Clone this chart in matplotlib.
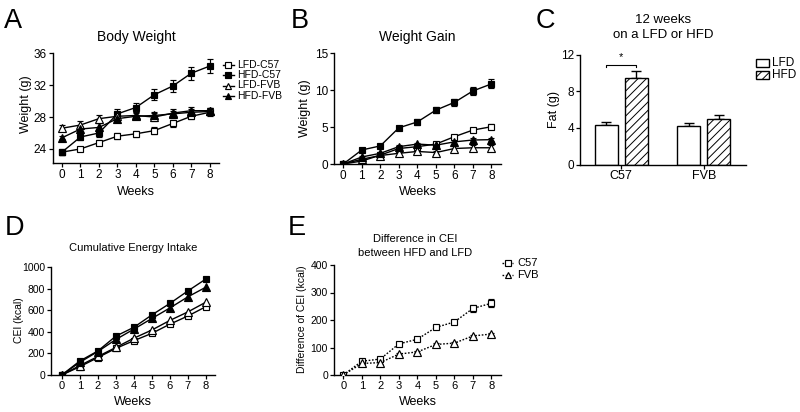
import matplotlib
matplotlib.use("Agg")
import matplotlib.pyplot as plt
from matplotlib.lines import Line2D
from matplotlib.patches import Rectangle

plt.rcParams["font.family"] = ["Liberation Sans", "DejaVu Sans"]
plt.rcParams["hatch.linewidth"] = 0.7

W, H = 800, 412

weeks = [0, 1, 2, 3, 4, 5, 6, 7, 8]
week_labels = ["0", "1", "2", "3", "4", "5", "6", "7", "8"]

# A: body weight (g)
bw_lfd_c57 = [23.6, 24.0, 24.8, 25.6, 25.9, 26.3, 27.2, 28.1, 28.6]
bw_hfd_c57 = [23.6, 25.5, 26.0, 28.4, 29.2, 30.8, 31.9, 33.5, 34.4]
bw_lfd_fvb = [26.6, 27.0, 27.8, 28.1, 28.2, 28.0, 28.5, 28.8, 28.8]
bw_hfd_fvb = [25.4, 26.5, 26.7, 27.8, 28.1, 28.2, 28.4, 28.6, 28.7]
bw_lfd_c57_err = [0.3, 0.3, 0.3, 0.4, 0.4, 0.4, 0.4, 0.4, 0.5]
bw_hfd_c57_err = [0.3, 0.4, 0.5, 0.6, 0.6, 0.7, 0.8, 0.8, 0.9]
bw_lfd_fvb_err = [0.4, 0.5, 0.5, 0.5, 0.4, 0.5, 0.5, 0.5, 0.4]
bw_hfd_fvb_err = [0.2, 0.4, 0.5, 0.4, 0.4, 0.4, 0.4, 0.4, 0.4]

# B: weight gain (g)
wg_lfd_c57 = [0, 0.4, 1.2, 2.1, 2.35, 2.7, 3.7, 4.6, 5.05]
wg_hfd_c57 = [0, 1.9, 2.45, 4.9, 5.7, 7.3, 8.35, 9.9, 10.85]
wg_lfd_fvb = [0, 0.65, 1.15, 1.45, 1.7, 1.55, 2.1, 2.2, 2.2]
wg_hfd_fvb = [0, 0.95, 1.45, 2.35, 2.7, 2.55, 3.0, 3.25, 3.3]
wg_lfd_c57_err = [0.1, 0.15, 0.2, 0.2, 0.2, 0.2, 0.2, 0.25, 0.35]
wg_hfd_c57_err = [0.1, 0.2, 0.2, 0.3, 0.35, 0.4, 0.45, 0.55, 0.6]
wg_lfd_fvb_err = [0.1, 0.2, 0.25, 0.3, 0.3, 0.25, 0.35, 0.4, 0.4]
wg_hfd_fvb_err = [0.1, 0.2, 0.2, 0.2, 0.2, 0.2, 0.25, 0.25, 0.25]

# C: fat after 12 weeks (g)
strains = ["C57", "FVB"]
fat_lfd = [4.3, 4.2]
fat_hfd = [9.4, 5.0]
fat_lfd_err = [0.3, 0.3]
fat_hfd_err = [0.75, 0.4]

# D: cumulative energy intake (kcal)
cei_lfd_c57 = [0, 77, 162, 247, 319, 387, 472, 548, 635]
cei_hfd_c57 = [0, 130, 223, 361, 443, 558, 665, 781, 892]
cei_lfd_fvb = [0, 88, 172, 256, 342, 418, 507, 586, 677]
cei_hfd_fvb = [0, 118, 218, 330, 426, 525, 623, 726, 816]

# E: difference in CEI between HFD and LFD (kcal)
dcei_c57 = [0, 50, 58, 113, 130, 173, 193, 242, 261]
dcei_fvb = [0, 42, 45, 76, 84, 111, 116, 142, 149]
dcei_c57_err = [3, 6, 5, 6, 5, 6, 8, 14, 14]
dcei_fvb_err = [3, 4, 4, 5, 4, 4, 4, 5, 5]

STYLES = {
    "LFD-C57": dict(marker="s", mfc="white"),
    "HFD-C57": dict(marker="s", mfc="black"),
    "LFD-FVB": dict(marker="^", mfc="white"),
    "HFD-FVB": dict(marker="^", mfc="black"),
}


def fx(x):
    return x / W


def fy(y):
    return 1 - y / H


def make_axes(fig, left, top, right, bottom):
    ax = fig.add_axes([fx(left), fy(bottom), (right - left) / W, (bottom - top) / H])
    ax.spines["top"].set_visible(False)
    ax.spines["right"].set_visible(False)
    for s in ("left", "bottom"):
        ax.spines[s].set_linewidth(1.0)
    ax.tick_params(direction="out", length=2.8, width=0.9, pad=1.5)
    return ax


def plot_series(ax, y, err, style, ls="-", ms=4.4):
    mk = style["marker"]
    size = ms + 0.8 if mk == "^" else ms
    if err is not None:
        ax.errorbar(weeks, y, yerr=err, fmt="none", ecolor="black",
                    elinewidth=0.85, capsize=2.5, capthick=0.85, zorder=2)
    ax.plot(weeks, y, color="black", lw=1.0, ls=ls, marker=mk, ms=size,
            mfc=style["mfc"], mec="black", mew=0.85, zorder=3)


def week_axis(ax, xmin=-0.5, fs=8.5):
    ax.set_xlim(xmin, 8.5)
    ax.set_xticks(weeks)
    ax.set_xticklabels(week_labels, fontsize=fs)


def series_legend(fig, x0, y0, dy, entries, ls="-", fs=7.5):
    for i, (label, style) in enumerate(entries):
        y = y0 + i * dy
        mk = style["marker"]
        fig.add_artist(Line2D([fx(x0), fx(x0 + 11)], [fy(y), fy(y)], color="black",
                              lw=1.0, ls=ls))
        fig.add_artist(Line2D([fx(x0 + 5.5)], [fy(y)], marker=mk,
                              ms=4.0 if mk == "s" else 4.4, mfc=style["mfc"],
                              mec="black", mew=0.85, ls="none"))
        fig.text(fx(x0 + 15), fy(y), label, fontsize=fs, va="center", ha="left")


fig = plt.figure(figsize=(W / 100, H / 100), dpi=100)

# panel letters
for letter, x, y in [("A", 4, 28), ("B", 291, 28), ("C", 536, 28.5),
                     ("D", 5, 235), ("E", 288, 235)]:
    fig.text(fx(x), fy(y), letter, fontsize=19.5, va="baseline", ha="left")

# ---- A ----
ax = make_axes(fig, 52.7, 53.3, 219, 163.3)
plot_series(ax, bw_lfd_c57, bw_lfd_c57_err, STYLES["LFD-C57"])
plot_series(ax, bw_hfd_c57, bw_hfd_c57_err, STYLES["HFD-C57"])
plot_series(ax, bw_lfd_fvb, bw_lfd_fvb_err, STYLES["LFD-FVB"])
plot_series(ax, bw_hfd_fvb, bw_hfd_fvb_err, STYLES["HFD-FVB"])
week_axis(ax)
ax.set_ylim(22.2, 36)
ax.set_yticks([24, 28, 32, 36])
ax.tick_params(axis="y", labelsize=8.5)
fig.text(fx(136), fy(41.5), "Body Weight", fontsize=10, ha="center", va="baseline")
fig.text(fx(136), fy(192.3), "Weeks", fontsize=9, ha="center", va="center")
fig.text(fx(26.5), fy(104), "Weight (g)", fontsize=9, ha="center", va="center", rotation=90)
series_legend(fig, 222.5, 64.5, 10.5, [(k, STYLES[k]) for k in STYLES])

# ---- B ----
ax = make_axes(fig, 334, 53.3, 500.7, 164)
plot_series(ax, wg_lfd_c57, wg_lfd_c57_err, STYLES["LFD-C57"])
plot_series(ax, wg_hfd_c57, wg_hfd_c57_err, STYLES["HFD-C57"])
plot_series(ax, wg_lfd_fvb, wg_lfd_fvb_err, STYLES["LFD-FVB"])
plot_series(ax, wg_hfd_fvb, wg_hfd_fvb_err, STYLES["HFD-FVB"])
week_axis(ax)
ax.set_ylim(0, 15)
ax.set_yticks([0, 5, 10, 15])
ax.tick_params(axis="y", labelsize=8.5)
fig.text(fx(417.5), fy(41), "Weight Gain", fontsize=10, ha="center", va="baseline")
fig.text(fx(417.5), fy(192.3), "Weeks", fontsize=9, ha="center", va="center")
fig.text(fx(305), fy(108.5), "Weight (g)", fontsize=9, ha="center", va="center", rotation=90)

# ---- C ----
ax = make_axes(fig, 580, 54.5, 746, 164.5)
pos = [0, 1]
bw = 0.28
off = 0.182
ax.bar([p - off for p in pos], fat_lfd, width=bw, color="white", edgecolor="black",
       linewidth=1.0, zorder=2)
ax.bar([p + off for p in pos], fat_hfd, width=bw, color="white", edgecolor="black",
       linewidth=1.0, hatch="////", zorder=2)
ax.errorbar([p - off for p in pos], fat_lfd, yerr=[[0, 0], fat_lfd_err], fmt="none",
            ecolor="black", elinewidth=1.0, capsize=3.5, capthick=1.0, zorder=1)
ax.errorbar([p + off for p in pos], fat_hfd, yerr=[[0, 0], fat_hfd_err], fmt="none",
            ecolor="black", elinewidth=1.0, capsize=3.5, capthick=1.0, zorder=1)
ax.set_xlim(-0.5, 1.51)
ax.set_xticks(pos)
ax.set_xticklabels(strains, fontsize=9)
ax.set_ylim(0, 12)
ax.set_yticks([0, 4, 8, 12])
ax.tick_params(axis="y", labelsize=8.5)
ax.plot([-off, -off, off, off], [10.65, 10.9, 10.9, 10.65], color="black", lw=0.8,
        clip_on=False)
ax.text(0, 11.15, "*", fontsize=8, ha="center", va="bottom")
fig.text(fx(663), fy(23.3), "12 weeks", fontsize=9.5, ha="center", va="baseline")
fig.text(fx(663), fy(37.7), "on a LFD or HFD", fontsize=9.5, ha="center", va="baseline")
fig.text(fx(553.5), fy(109), "Fat (g)", fontsize=9, ha="center", va="center", rotation=90)
for i, (label, hatch) in enumerate([("LFD", None), ("HFD", "////")]):
    y = 59.3 + i * 11.7
    fig.add_artist(Rectangle((fx(756), fy(y + 8)), 12.7 / W, 8 / H, facecolor="white",
                             edgecolor="black", linewidth=1.0, hatch=hatch,
                             transform=fig.transFigure))
    fig.text(fx(772), fy(y + 4), label, fontsize=8.5, ha="left", va="center")

# ---- D ----
ax = make_axes(fig, 51, 267.3, 215, 375)
plot_series(ax, cei_lfd_c57, None, STYLES["LFD-C57"])
plot_series(ax, cei_hfd_c57, None, STYLES["HFD-C57"])
plot_series(ax, cei_lfd_fvb, None, STYLES["LFD-FVB"])
plot_series(ax, cei_hfd_fvb, None, STYLES["HFD-FVB"])
week_axis(ax, xmin=-0.6, fs=8)
ax.set_ylim(0, 1000)
ax.set_yticks([0, 200, 400, 600, 800, 1000])
ax.tick_params(axis="y", labelsize=7.5)
fig.text(fx(133), fy(251), "Cumulative Energy Intake", fontsize=8, ha="center", va="baseline")
fig.text(fx(133), fy(401.7), "Weeks", fontsize=9, ha="center", va="center")
fig.text(fx(18.5), fy(320), "CEI (kcal)", fontsize=7.5, ha="center", va="center", rotation=90)

# ---- E ----
ax = make_axes(fig, 334, 265, 500.7, 375)
plot_series(ax, dcei_c57, dcei_c57_err, STYLES["LFD-C57"], ls=(0, (1.2, 1.2)))
plot_series(ax, dcei_fvb, dcei_fvb_err, STYLES["LFD-FVB"], ls=(0, (1.2, 1.2)))
week_axis(ax, fs=8)
ax.set_ylim(0, 400)
ax.set_yticks([0, 100, 200, 300, 400])
ax.tick_params(axis="y", labelsize=7.5)
fig.text(fx(415), fy(241.7), "Difference in CEI", fontsize=8, ha="center", va="baseline")
fig.text(fx(415), fy(256), "between HFD and LFD", fontsize=8, ha="center", va="baseline")
fig.text(fx(417.5), fy(401.7), "Weeks", fontsize=9, ha="center", va="center")
fig.text(fx(301.7), fy(319), "Difference of CEI (kcal)", fontsize=7.5, ha="center",
         va="center", rotation=90)
series_legend(fig, 502, 263.3, 11.7, [("C57", STYLES["LFD-C57"]), ("FVB", STYLES["LFD-FVB"])],
              ls=(0, (1.2, 1.2)), fs=8)

fig.savefig("out.png", dpi=100)
